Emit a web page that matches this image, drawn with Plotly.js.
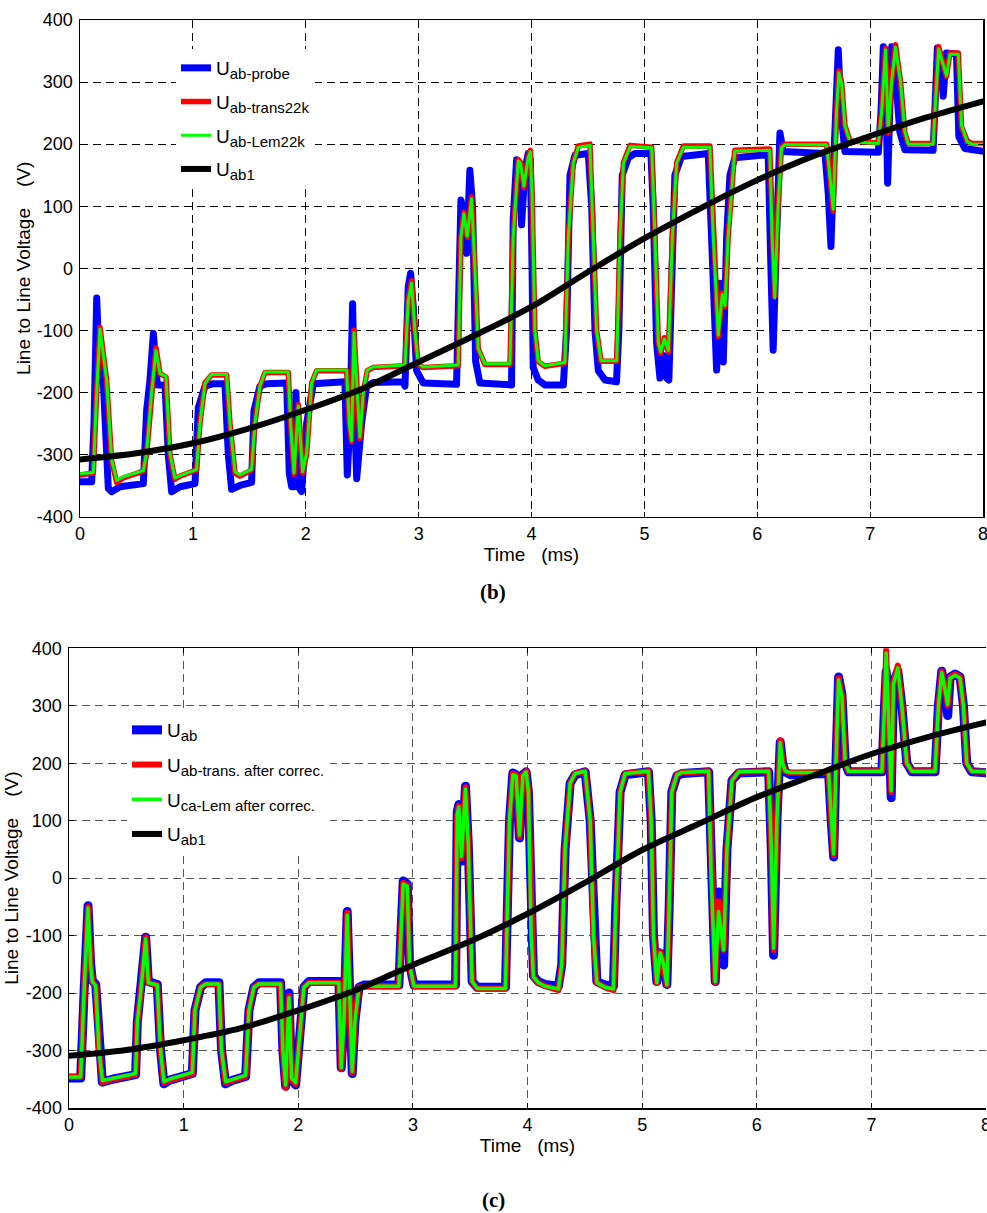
<!DOCTYPE html>
<html>
<head>
<meta charset="utf-8">
<script src="https://cdn.plot.ly/plotly-3.0.1.min.js"></script>
<style>
html,body{margin:0;padding:0;background:#fff;}
#chart{width:987px;height:1213px;}
.scatterlayer path.js-line{stroke-linejoin:round !important;stroke-linecap:round !important;}
</style>
</head>
<body>
<div id="chart"></div>
<script>
// ---------- (b) top panel ----------
const tProbeB = [0,0.103,0.124,0.148,0.165,0.183,0.207,0.251,0.280,0.354,0.561,0.590,0.620,0.650,0.685,0.753,0.782,0.812,0.886,1.019,1.048,1.107,1.181,1.284,1.314,1.343,1.417,1.520,1.541,1.594,1.653,1.831,1.854,1.875,1.895,1.913,1.934,1.963,2.008,2.067,2.347,2.368,2.391,2.415,2.436,2.451,2.495,2.539,2.598,2.864,2.879,2.908,2.929,2.952,2.982,3.041,3.336,3.360,3.375,3.410,3.425,3.454,3.478,3.505,3.543,3.823,3.838,3.868,3.891,3.912,3.942,3.971,3.990,4.005,4.015,4.059,4.118,4.282,4.311,4.341,4.385,4.503,4.533,4.562,4.592,4.651,4.753,4.774,4.804,4.858,4.916,5.058,5.078,5.108,5.138,5.167,5.197,5.217,5.241,5.270,5.329,5.566,5.595,5.640,5.669,5.699,5.729,5.758,5.802,6.097,6.121,6.141,6.171,6.201,6.230,6.600,6.629,6.653,6.683,6.718,6.742,6.777,7.073,7.096,7.117,7.138,7.155,7.176,7.191,7.221,7.263,7.308,7.558,7.579,7.596,7.626,7.647,7.676,7.765,7.786,7.839,8.015];
const uProbeB = [-344,-344,-250,-48,-130,-180,-185,-355,-360,-352,-347,-230,-180,-105,-188,-188,-300,-360,-352,-347,-225,-190,-186,-186,-300,-356,-350,-345,-230,-190,-186,-185,-330,-352,-352,-200,-352,-360,-250,-186,-183,-333,-250,-57,-250,-339,-250,-190,-184,-183,-190,-30,-8,-60,-165,-185,-187,60,110,80,24,158,100,-150,-185,-188,80,175,170,70,160,185,175,0,-160,-180,-188,-188,-100,150,182,185,100,-100,-165,-180,-183,-100,150,178,185,185,100,-120,-177,-140,-177,-180,-50,150,180,185,50,-164,-24,-151,50,150,178,183,0,-132,50,218,188,185,120,35,200,352,250,188,187,250,357,300,137,320,357,320,220,191,190,280,355,340,277,347,345,212,193,188];

const tTransB = [0,0.118,0.148,0.177,0.201,0.236,0.280,0.325,0.384,0.561,0.590,0.635,0.673,0.709,0.762,0.797,0.841,0.886,1.033,1.063,1.107,1.166,1.299,1.329,1.373,1.417,1.520,1.550,1.594,1.639,1.845,1.866,1.896,1.934,1.972,2.008,2.052,2.096,2.362,2.386,2.406,2.427,2.456,2.480,2.510,2.545,2.598,2.879,2.908,2.938,2.967,2.997,3.041,3.351,3.375,3.401,3.431,3.469,3.499,3.528,3.587,3.809,3.838,3.883,3.903,3.933,3.971,3.990,4.005,4.030,4.059,4.118,4.296,4.326,4.370,4.414,4.518,4.548,4.577,4.616,4.755,4.784,4.814,4.873,5.065,5.094,5.124,5.145,5.177,5.213,5.248,5.286,5.345,5.581,5.611,5.655,5.690,5.715,5.742,5.801,6.111,6.132,6.155,6.185,6.215,6.244,6.614,6.643,6.673,6.702,6.723,6.747,6.777,6.821,7.072,7.101,7.137,7.160,7.190,7.225,7.270,7.308,7.337,7.558,7.607,7.677,7.707,7.781,7.810,7.860,7.899,8.015];
const uTransB = [-333,-330,-200,-95,-130,-180,-310,-345,-338,-327,-300,-200,-128,-170,-175,-300,-340,-335,-325,-250,-185,-172,-172,-250,-330,-335,-325,-250,-190,-168,-168,-250,-332,-220,-330,-300,-185,-165,-165,-250,-280,-100,-200,-274,-200,-165,-160,-157,-50,-20,-100,-155,-160,-157,50,90,50,115,0,-130,-155,-155,50,175,170,130,180,190,120,-100,-150,-158,-153,50,170,197,200,50,-100,-150,-150,50,170,198,195,50,-120,-137,-112,-135,50,170,197,197,50,-110,-40,-62,50,190,192,50,-45,100,195,200,200,150,92,250,318,300,230,205,202,250,355,218,300,360,300,218,201,201,357,309,347,347,228,205,201,201];

const tLemB = tTransB;
const uLemB = [-331,-329,-200,-98,-131,-180,-308,-342,-336,-326,-298,-200,-132,-170,-174,-298,-338,-334,-324,-250,-186,-171,-171,-250,-328,-333,-324,-250,-190,-167,-167,-250,-330,-222,-328,-298,-185,-164,-164,-250,-278,-104,-200,-272,-200,-164,-159,-156,-52,-24,-100,-154,-159,-156,50,88,52,112,0,-130,-154,-154,50,173,169,132,178,188,120,-100,-149,-157,-152,50,169,195,198,50,-100,-149,-149,50,169,196,194,50,-120,-135,-114,-133,50,169,195,195,50,-108,-42,-60,50,189,190,50,-48,100,194,199,199,150,95,250,315,298,230,204,201,250,352,220,300,356,300,220,200,200,354,310,345,345,230,204,200,200];

const tFundB = [0,0.5,1,1.5,2,2.5,3,3.5,4,4.5,5,5.5,6,6.5,7,7.5,8];
const uFundB = [-308,-298,-282,-258,-228,-194,-151,-108,-62,-6,48,97,142,181,213,243,269];

// ---------- (c) bottom panel ----------
const tC = [0,0.102,0.131,0.166,0.189,0.203,0.233,0.262,0.291,0.378,0.581,0.596,0.625,0.669,0.692,0.770,0.799,0.828,0.872,1.076,1.099,1.148,1.192,1.308,1.331,1.366,1.424,1.541,1.570,1.613,1.657,1.846,1.866,1.890,1.919,1.942,1.977,2.012,2.049,2.093,2.355,2.375,2.398,2.427,2.448,2.471,2.494,2.529,2.573,2.878,2.895,2.916,2.951,2.971,3.009,3.372,3.387,3.401,3.424,3.459,3.483,3.517,3.561,3.808,3.843,3.872,3.901,3.930,3.959,3.988,4.008,4.032,4.052,4.095,4.153,4.270,4.299,4.328,4.372,4.415,4.503,4.547,4.576,4.605,4.677,4.750,4.770,4.808,4.852,5.055,5.079,5.099,5.128,5.158,5.187,5.216,5.236,5.259,5.303,5.347,5.580,5.603,5.638,5.667,5.711,5.740,5.784,5.842,6.104,6.127,6.147,6.176,6.205,6.226,6.249,6.292,6.627,6.650,6.671,6.691,6.714,6.743,6.772,6.801,7.092,7.115,7.129,7.155,7.173,7.193,7.231,7.266,7.309,7.353,7.556,7.585,7.614,7.643,7.666,7.687,7.730,7.774,7.803,7.832,7.875,8.021];
const uAbC = [-348,-348,-200,-48,-150,-178,-185,-300,-355,-350,-342,-250,-200,-103,-180,-185,-300,-358,-352,-340,-230,-190,-182,-182,-300,-358,-352,-345,-230,-190,-182,-182,-300,-362,-200,-350,-360,-280,-190,-180,-180,-330,-250,-58,-200,-340,-250,-190,-186,-186,-100,-5,-10,-150,-186,-186,115,128,30,160,60,-180,-190,-190,100,183,180,70,180,185,150,-100,-170,-180,-185,-188,-150,50,165,180,185,100,-100,-180,-186,-188,-50,150,180,185,100,-100,-180,-130,-150,-185,-50,150,178,182,185,0,-180,-24,-151,50,170,183,185,50,-134,100,237,200,185,180,182,100,37,200,350,320,200,185,185,300,360,250,140,341,360,300,200,185,185,300,360,330,283,350,355,350,300,200,185,183];
const uTransC = [-346,-346,-200,-50,-150,-180,-187,-300,-355,-350,-342,-250,-200,-103,-182,-186,-300,-356,-352,-340,-230,-190,-184,-184,-300,-356,-352,-345,-230,-190,-184,-184,-300,-365,-205,-350,-358,-280,-190,-182,-182,-332,-250,-60,-200,-338,-250,-190,-188,-188,-100,-8,-12,-150,-188,-188,112,126,35,158,60,-180,-192,-192,100,182,180,72,180,186,150,-100,-172,-182,-188,-195,-150,50,165,182,186,100,-100,-182,-190,-195,-50,150,182,186,100,-100,-182,-128,-150,-186,-50,150,180,184,186,0,-182,-40,-125,50,170,185,186,50,-125,100,240,200,186,184,184,100,40,200,348,318,200,186,186,300,397,250,150,341,370,300,200,186,186,300,360,330,300,350,355,350,300,200,186,185];
const uLemC = [-346,-346,-200,-52,-150,-180,-187,-300,-352,-348,-340,-250,-200,-106,-182,-186,-300,-354,-350,-338,-230,-190,-184,-184,-300,-354,-350,-343,-230,-190,-184,-184,-300,-360,-208,-348,-356,-280,-190,-182,-182,-330,-250,-64,-200,-336,-250,-190,-188,-188,-100,-10,-14,-150,-188,-188,110,124,38,155,60,-180,-192,-192,100,180,178,75,178,185,150,-100,-172,-182,-188,-193,-150,50,165,182,186,100,-100,-182,-190,-193,-50,150,182,186,100,-100,-182,-130,-150,-186,-50,150,180,184,186,0,-180,-58,-125,50,170,185,186,50,-122,100,236,200,186,184,184,100,42,200,345,316,200,186,186,300,392,250,152,338,366,300,200,186,186,300,358,328,302,348,353,348,300,200,186,185];

const tFundC = [0,0.5,1,1.5,2,2.5,3,3.5,4,4.5,5,5.5,6,6.5,7,7.5,8];
const uFundC = [-309,-299,-282,-261,-230,-195,-151,-110,-62,-8,49,95,141,179,216,246,271];

const SUB = s => 'U<sub><span style="font-size:15px">' + s + '</span></sub>';
const namesB = [SUB('ab-probe'),SUB('ab-trans22k'),SUB('ab-Lem22k'),SUB('ab1')];
const namesC = [SUB('ab'),SUB('ab-trans. after correc.'),SUB('ca-Lem after correc.'),SUB('ab1')];
const xTicks = [0,1,2,3,4,5,6,7,8];
const yTicks = [-400,-300,-200,-100,0,100,200,300,400];

const BLUE='#0000ff', RED='#ff0000', GREEN='#00ff00', BLACK='#000000';
const FONT='Liberation Sans, Arial, sans-serif';

function tr(x,y,name,color,w,xa,ya,lg,grp,shape){
  return {x:x,y:y,name:name,type:'scatter',mode:'lines',xaxis:xa,yaxis:ya,legend:lg,legendgroup:grp,
    line:{color:color,width:w,shape:shape||'linear'},hoverinfo:'skip'};
}

const data = [
  tr(tProbeB,uProbeB,namesB[0],BLUE,7,'x','y','legend','b1'),
  tr(tTransB,uTransB,namesB[1],RED,5.5,'x','y','legend','b2'),
  tr(tLemB,uLemB,namesB[2],GREEN,3,'x','y','legend','b3'),
  tr(tFundB,uFundB,namesB[3],BLACK,6,'x','y','legend','b4','spline'),
  tr(tC,uAbC,namesC[0],BLUE,9,'x2','y2','legend2','c1'),
  tr(tC,uTransC,namesC[1],RED,6,'x2','y2','legend2','c2'),
  tr(tC,uLemC,namesC[2],GREEN,3.5,'x2','y2','legend2','c3'),
  tr(tFundC,uFundC,namesC[3],BLACK,6,'x2','y2','legend2','c4','spline')
];

function xax(domain,anchor,grid,mirror){
  return {domain:domain,anchor:anchor,range:[0,8],tickvals:xTicks,ticktext:xTicks.map(String),
    showline:true,linecolor:'#000',linewidth:1.5,mirror:mirror,ticks:'inside',ticklen:5,tickcolor:'#000',
    showgrid:true,gridcolor:grid,griddash:'8px,5px',gridwidth:1,zeroline:false,ticklabeloverflow:'allow',
    tickfont:{family:FONT,size:18,color:'#000'},
    title:{text:'Time\u00a0\u00a0\u00a0(ms)',font:{family:FONT,size:19,color:'#000'},standoff:4}};
}
function yax(domain,anchor,grid,mirror,standoff){
  return {domain:domain,anchor:anchor,range:[-400,400],tickvals:yTicks,ticktext:yTicks.map(String),
    showline:true,linecolor:'#000',linewidth:1.5,mirror:mirror,ticks:'inside',ticklen:5,tickcolor:'#000',
    showgrid:true,gridcolor:grid,griddash:'8px,5px',gridwidth:1,zeroline:false,ticklabeloverflow:'allow',
    tickfont:{family:FONT,size:18,color:'#000'},ticklabelstandoff:2,
    title:{text:'Line to Line Voltage\u00a0\u00a0\u00a0\u00a0(V)',font:{family:FONT,size:19,color:'#000'},standoff:standoff}};
}

const layout = {
  width:987,height:1213,autosize:false,
  margin:{l:0,r:0,t:0,b:0},
  paper_bgcolor:'#fff',plot_bgcolor:'#fff',
  showlegend:true,
  xaxis:xax([80/987,983/987],'y','#000','ticks'),
  yaxis:yax([1-516.5/1213,1-20/1213],'x','#000','ticks',1),
  xaxis2:xax([69/987,986/987],'y2','#555','ticks'),
  yaxis2:yax([1-1108/1213,1-648.3/1213],'x2','#555',false,2),
  legend:{x:176/987,y:1-49/1213,xanchor:'left',yanchor:'top',bgcolor:'#fff',borderwidth:0,
    font:{family:FONT,size:19,color:'#000'},itemwidth:30,tracegroupgap:6,traceorder:'grouped'},
  legend2:{x:127/987,y:1-711/1213,xanchor:'left',yanchor:'top',bgcolor:'#fff',borderwidth:0,
    font:{family:FONT,size:19,color:'#000'},itemwidth:30,tracegroupgap:7,traceorder:'grouped'},
  annotations:[
    {text:'<b>(b)</b>',xref:'paper',yref:'paper',x:493/987,y:1-592/1213,xanchor:'center',yanchor:'middle',
     showarrow:false,font:{family:'Liberation Serif, Times New Roman, serif',size:21,color:'#000'}},
    {text:'<b>(c)</b>',xref:'paper',yref:'paper',x:493/987,y:1-1200/1213,xanchor:'center',yanchor:'middle',
     showarrow:false,font:{family:'Liberation Serif, Times New Roman, serif',size:21,color:'#000'}}
  ]
};

Plotly.newPlot('chart',data,layout,{displayModeBar:false,staticPlot:true});
</script>
</body>
</html>
